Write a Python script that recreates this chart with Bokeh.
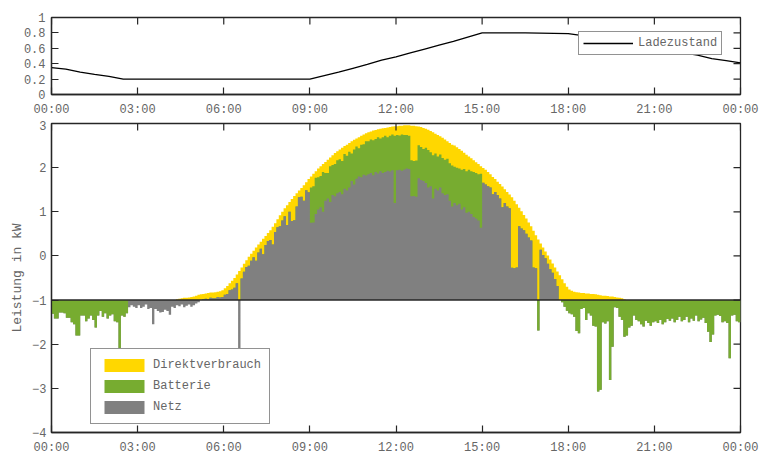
import math
from bokeh.plotting import figure
from bokeh.layouts import column
from bokeh.models import (ColumnDataSource, FixedTicker, Range1d,
                          Span, Legend, LegendItem)
from bokeh.embed import file_html
from bokeh.resources import INLINE

# ---------------------------------------------------------------- data
SCHRITT_MIN = 5          # 5-minute slots, 12 per hour
BASIS = -1.0             # bars start at -1 kW

# Netz (+ Einspeisung / - Bezug), kW, one row per hour
netz_h = [
    [0] * 12,
    [0] * 12,
    [0, 0, 0, 0, 0, 0, 0, 0, -0.16, -0.12, -0.15, -0.18],
    [-0.12, -0.18, -0.15, -0.10, -0.20, -0.18, -0.55, -0.20, -0.25, -0.28, -0.27, -0.22],
    [-0.25, -0.33, -0.15, -0.18, -0.12, -0.14, -0.10, -0.16, -0.13, -0.10, -0.15, -0.12],
    [-0.08, -0.05, 0, 0.02, 0.03, 0.02, 0.05, 0.04, 0.04, 0.07, 0.06, 0.07],
    [0.12, 0.14, 0.22, 0.24, 0.28, 0.38, -1.5, 0.49, 0.64, 0.75, 0.78, 0.89],
    [0.97, 0.89, 1.08, 1.16, 1.04, 1.25, 1.34, 1.36, 1.26, 1.54, 1.65, 1.67],
    [1.80, 1.90, 1.70, 2.00, 1.79, 1.81, 2.12, 2.33, 2.34, 2.25, 2.49, 2.44],
    [1.75, 1.76, 1.95, 2.05, 2.10, 2.00, 2.25, 2.30, 2.22, 2.38, 2.35, 2.42],
    [2.45, 2.40, 2.52, 2.48, 2.55, 2.70, 2.62, 2.75, 2.80, 2.78, 2.84, 2.82],
    [2.85, 2.88, 2.83, 2.90, 2.87, 2.92, 2.88, 2.90, 2.93, 2.91, 2.94, 2.20],
    [2.94, 2.95, 2.93, 2.96, 2.98, 2.97, 2.35, 2.36, 2.34, 2.76, 2.72, 2.70],
    [2.65, 2.55, 2.58, 2.30, 2.52, 2.48, 2.55, 2.42, 2.38, 2.40, 2.25, 2.12],
    [2.20, 2.15, 2.18, 2.05, 2.10, 1.98, 2.00, 1.95, 1.88, 1.85, 1.80, 1.64],
    [2.66, 2.62, 2.58, 2.55, 2.40, 2.45, 2.38, 2.30, 2.10, 2.20, 2.12, 2.08],
    [0.73, 0.72, 0.74, 1.67, 1.62, 1.58, 1.50, 1.42, 1.35, 0.74, 0.72, 0],
    [1.14, 1.02, 0.95, 0.82, 0.70, 0.62, 0.48, 0.32, 0, 0, 0, 0],
    [0] * 12,
    [0] * 12,
    [0] * 12,
    [0] * 12,
    [0] * 12,
    [0] * 12,
]

# Batterie (+ Laden / - Entladen), kW
batterie_h = [
    [-0.31, -0.42, -0.42, -0.28, -0.28, -0.30, -0.40, -0.40, -0.50, -0.55, -0.80, -0.80],
    [-0.35, -0.35, -0.48, -0.42, -0.35, -0.45, -0.62, -0.35, -0.25, -0.38, -0.30, -0.42],
    [-0.35, -0.32, -0.48, -0.50, -1.80, -0.35, -0.38, -0.30, 0, 0, 0, 0],
    [0] * 12,
    [0] * 12,
    [0] * 12,
    [0] * 12,
    [0] * 12,
    [0] * 12,
    [0.80, 0.82, 0.82, 0.73, 0.71, 0.90, 0.63, 0.58, 0.81, 0.68, 0.73, 0.75],
    [0.74, 0.75, 0.79, 0.79, 0.81, 0.62, 0.79, 0.73, 0.64, 0.74, 0.69, 0.78],
    [0.75, 0.76, 0.79, 0.75, 0.82, 0.74, 0.81, 0.82, 0.76, 0.81, 0.81, 1.52],
    [0.80, 0.78, 0.82, 0.78, 0.76, 0.75, 0.82, 0.79, 0.82, 0.75, 0.75, 0.72],
    [0.80, 0.85, 0.77, 0.98, 0.80, 0.77, 0.75, 0.80, 0.80, 0.80, 0.85, 0.93],
    [0.82, 0.85, 0.80, 0.90, 0.87, 0.94, 0.95, 0.97, 1.02, 1.03, 1.05, 1.22],
    [0] * 12,
    [0, 0, 0, 0, 0, 0, 0, 0, 0, 0, 0, -0.69],
    [0, 0, 0, 0, 0, 0, 0, 0, 0, -0.05, -0.15, -0.24],
    [-0.30, -0.32, -0.38, -0.70, -0.75, -0.20, -0.18, -0.45, -0.30, -0.35, -0.58, -0.60],
    [-2.07, -2.03, -0.50, -0.53, -0.48, -1.81, -1.06, -0.16, -0.18, -0.38, -0.45, -0.83],
    [-0.80, -0.62, -0.58, -0.35, -0.45, -0.48, -0.55, -0.60, -0.47, -0.52, -0.58, -0.50],
    [-0.48, -0.52, -0.45, -0.55, -0.50, -0.43, -0.47, -0.42, -0.50, -0.45, -0.38, -0.48],
    [-0.45, -0.38, -0.50, -0.42, -0.47, -0.35, -0.48, -0.44, -0.40, -0.52, -0.72, -0.95],
    [-0.78, -0.35, -0.33, -0.36, -0.50, -0.48, -0.52, -1.32, -0.35, -0.33, -0.48, -0.50],
]

# Direktverbrauch, kW
direkt_h = [
    [0] * 12,
    [0] * 12,
    [0] * 12,
    [0] * 12,
    [0, 0, 0, 0, 0.02, 0.03, 0.04, 0.05, 0.05, 0.06, 0.07, 0.08],
    [0.10, 0.12, 0.13, 0.12, 0.12, 0.14, 0.12, 0.13, 0.14, 0.12, 0.14, 0.15],
    [0.15, 0.18, 0.16, 0.20, 0.22, 0.20, 0.66, 0.25, 0.18, 0.15, 0.20, 0.16],
    [0.15, 0.30, 0.18, 0.16, 0.35, 0.20, 0.18, 0.22, 0.40, 0.20, 0.18, 0.25],
    [0.20, 0.18, 0.45, 0.22, 0.50, 0.55, 0.30, 0.15, 0.20, 0.35, 0.18, 0.30],
    [0.25, 0.28, 0.15, 0.20, 0.22, 0.18, 0.25, 0.30, 0.20, 0.22, 0.25, 0.20],
    [0.22, 0.30, 0.18, 0.25, 0.20, 0.28, 0.22, 0.18, 0.25, 0.20, 0.22, 0.18],
    [0.20, 0.18, 0.22, 0.20, 0.18, 0.22, 0.20, 0.18, 0.22, 0.20, 0.18, 0.22],
    [0.20, 0.22, 0.20, 0.22, 0.22, 0.24, 0.78, 0.80, 0.78, 0.42, 0.45, 0.48],
    [0.43, 0.46, 0.48, 0.52, 0.45, 0.49, 0.41, 0.46, 0.46, 0.40, 0.46, 0.47],
    [0.48, 0.46, 0.44, 0.43, 0.37, 0.37, 0.30, 0.29, 0.27, 0.24, 0.23, 0.17],
    [0.33, 0.33, 0.32, 0.30, 0.39, 0.29, 0.30, 0.33, 0.47, 0.31, 0.33, 0.31],
    [1.60, 1.53, 1.43, 0.42, 0.39, 0.35, 0.35, 0.34, 0.32, 0.83, 0.75, 1.37],
    [0.14, 0.17, 0.15, 0.19, 0.22, 0.21, 0.26, 0.33, 0.56, 0.47, 0.38, 0.30],
    [0.24, 0.21, 0.19, 0.18, 0.17, 0.16, 0.16, 0.15, 0.15, 0.14, 0.14, 0.13],
    [0.12, 0.11, 0.10, 0.10, 0.09, 0.08, 0.08, 0.07, 0.06, 0.05, 0.04, 0.02],
    [0] * 12,
    [0] * 12,
    [0] * 12,
    [0] * 12,
]

# Ladezustand (state of charge), every 30 minutes
soc_zeit = [h / 2 for h in range(49)]
ladezustand = [
    0.35, 0.33, 0.29, 0.26, 0.235, 0.20,
    0.20, 0.20, 0.20, 0.20, 0.20, 0.20, 0.20, 0.20, 0.20, 0.20, 0.20, 0.20, 0.20,
    0.245, 0.29, 0.34, 0.39, 0.445, 0.49, 0.54, 0.59, 0.64, 0.69, 0.745, 0.80,
    0.80, 0.80, 0.80, 0.798, 0.795, 0.79, 0.765, 0.73, 0.69, 0.66, 0.63, 0.60,
    0.57, 0.54, 0.51, 0.465, 0.44, 0.41,
]

x_ticks = [0, 3, 6, 9, 12, 15, 18, 21, 24]
x_labels = ["00:00", "03:00", "06:00", "09:00", "12:00", "15:00", "18:00", "21:00", "00:00"]
y1_ticks = [0, 0.2, 0.4, 0.6, 0.8, 1]
y1_labels = ["0", "0.2", "0.4", "0.6", "0.8", "1"]
y2_ticks = [-4, -3, -2, -1, 0, 1, 2, 3]
y2_labels = ["\u22124", "\u22123", "\u22122", "\u22121", "0", "1", "2", "3"]

serien = ["Direktverbrauch", "Batterie", "Netz"]
farben = {"Direktverbrauch": "#FFD700", "Batterie": "#77AC30", "Netz": "#808080"}

# ---------------------------------------------------------------- stacking
netz = [v for h in netz_h for v in h]
batterie = [v for h in batterie_h for v in h]
direkt = [v for h in direkt_h for v in h]
n_slots = len(netz)
breite = SCHRITT_MIN / 60.0

# step edges (slot starts + end of day); the last value is repeated for the end edge
kanten = [i * breite for i in range(n_slots + 1)]
idx = list(range(n_slots)) + [n_slots - 1]

pos_netz = [BASIS + max(netz[i], 0) for i in idx]
pos_batt = [BASIS + max(netz[i], 0) + max(batterie[i], 0) for i in idx]
pos_ges = [BASIS + max(netz[i], 0) + max(batterie[i], 0) + max(direkt[i], 0) for i in idx]
neg_batt = [BASIS + min(batterie[i], 0) for i in idx]
neg_ges = [BASIS + min(batterie[i], 0) + min(netz[i], 0) for i in idx]
basis = [BASIS] * len(idx)

src = ColumnDataSource(dict(x=kanten, basis=basis, pos_netz=pos_netz, pos_batt=pos_batt,
                            pos_ges=pos_ges, neg_batt=neg_batt, neg_ges=neg_ges))

# ---------------------------------------------------------------- styling
FONT = "Liberation Mono"
TXT = "#666666"
AX = "#262626"
TICK = 7


def make_fig(height, y_range, b_top, b_bottom):
    p = figure(width=759, height=height, x_range=Range1d(0, 24), y_range=y_range,
               output_backend="svg", toolbar_location=None,
               min_border_left=51, min_border_right=19,
               min_border_top=b_top, min_border_bottom=b_bottom)
    p.grid.visible = False
    p.outline_line_color = AX
    p.outline_line_width = 1.3
    return p


def style_axis(ax, ticks, labels, standoff=5):
    ax.ticker = FixedTicker(ticks=ticks)
    ax.major_label_overrides = {t: l for t, l in zip(ticks, labels)}
    ax.major_tick_in = TICK
    ax.major_tick_out = 0
    ax.minor_tick_line_color = None
    ax.major_tick_line_color = AX
    ax.major_tick_line_width = 1.2
    ax.axis_line_color = AX
    ax.axis_line_width = 1.3
    ax.major_label_text_font = FONT
    ax.major_label_text_color = TXT
    ax.major_label_text_font_size = "12px"
    ax.major_label_standoff = standoff


def mirror_ticks(p, xt, yt):
    # inward ticks on the top and right edge of the box (clipped to the frame)
    x_end = p.x_range.end
    y_end = p.y_range.end
    p.scatter(xt, [y_end] * len(xt), marker="dash", size=2 * TICK, angle=math.pi / 2,
              line_color=AX, line_width=1.2)
    p.scatter([x_end] * len(yt), yt, marker="dash", size=2 * TICK,
              line_color=AX, line_width=1.2)


# ---- top: Ladezustand
p1 = make_fig(120, Range1d(0, 1), 17, 26)
style_axis(p1.xaxis[0], x_ticks, x_labels, standoff=8)
style_axis(p1.yaxis[0], y1_ticks, y1_labels, standoff=6)
soc_r = p1.line(soc_zeit, ladezustand, line_color="black", line_width=1.3)
mirror_ticks(p1, x_ticks, y1_ticks)
leg1 = Legend(items=[LegendItem(label="Ladezustand", renderers=[soc_r])],
              location=(527, 39), orientation="vertical",
              glyph_width=50, glyph_height=14, label_height=14, label_width=20,
              padding=4, margin=0, spacing=0, label_standoff=5,
              label_text_font=FONT, label_text_font_size="12px", label_text_color=TXT,
              border_line_color=AX, border_line_width=1.2,
              background_fill_color="white", background_fill_alpha=1.0)
p1.add_layout(leg1)

# ---- bottom: Leistung
p2 = make_fig(337, Range1d(-4, 3), 3, 22)
style_axis(p2.xaxis[0], x_ticks, x_labels, standoff=8)
style_axis(p2.yaxis[0], y2_ticks, y2_labels, standoff=5)
p2.yaxis[0].axis_label = "Leistung in kW"
p2.yaxis[0].axis_label_text_font = FONT
p2.yaxis[0].axis_label_text_font_size = "13px"
p2.yaxis[0].axis_label_text_font_style = "normal"
p2.yaxis[0].axis_label_text_color = TXT
p2.yaxis[0].axis_label_standoff = 4

# each layer is drawn from the baseline to its cumulative edge, back to front
r_direkt = p2.varea_step(x="x", y1="basis", y2="pos_ges", step_mode="after",
                         source=src, fill_color=farben["Direktverbrauch"])
r_batt = p2.varea_step(x="x", y1="basis", y2="pos_batt", step_mode="after",
                       source=src, fill_color=farben["Batterie"])
r_netz = p2.varea_step(x="x", y1="basis", y2="pos_netz", step_mode="after",
                       source=src, fill_color=farben["Netz"])
p2.varea_step(x="x", y1="neg_ges", y2="basis", step_mode="after",
              source=src, fill_color=farben["Netz"])
p2.varea_step(x="x", y1="neg_batt", y2="basis", step_mode="after",
              source=src, fill_color=farben["Batterie"])
renderers = {"Direktverbrauch": r_direkt, "Batterie": r_batt, "Netz": r_netz}

p2.add_layout(Span(location=BASIS, dimension="width", line_color=AX, line_width=1.4))
mirror_ticks(p2, x_ticks, y2_ticks)

leg2 = Legend(items=[LegendItem(label=s, renderers=[renderers[s]]) for s in serien],
              location=(39, 8), orientation="vertical",
              glyph_width=50, glyph_height=16, label_height=16, label_width=20,
              padding=8, margin=0, spacing=5, label_standoff=4,
              label_text_font=FONT, label_text_font_size="12px", label_text_color=TXT,
              border_line_color=AX, border_line_width=1.2,
              background_fill_color="white", background_fill_alpha=1.0)
p2.add_layout(leg2)

layout = column(p1, p2, spacing=0)
open("out.html", "w").write(file_html(layout, INLINE))
